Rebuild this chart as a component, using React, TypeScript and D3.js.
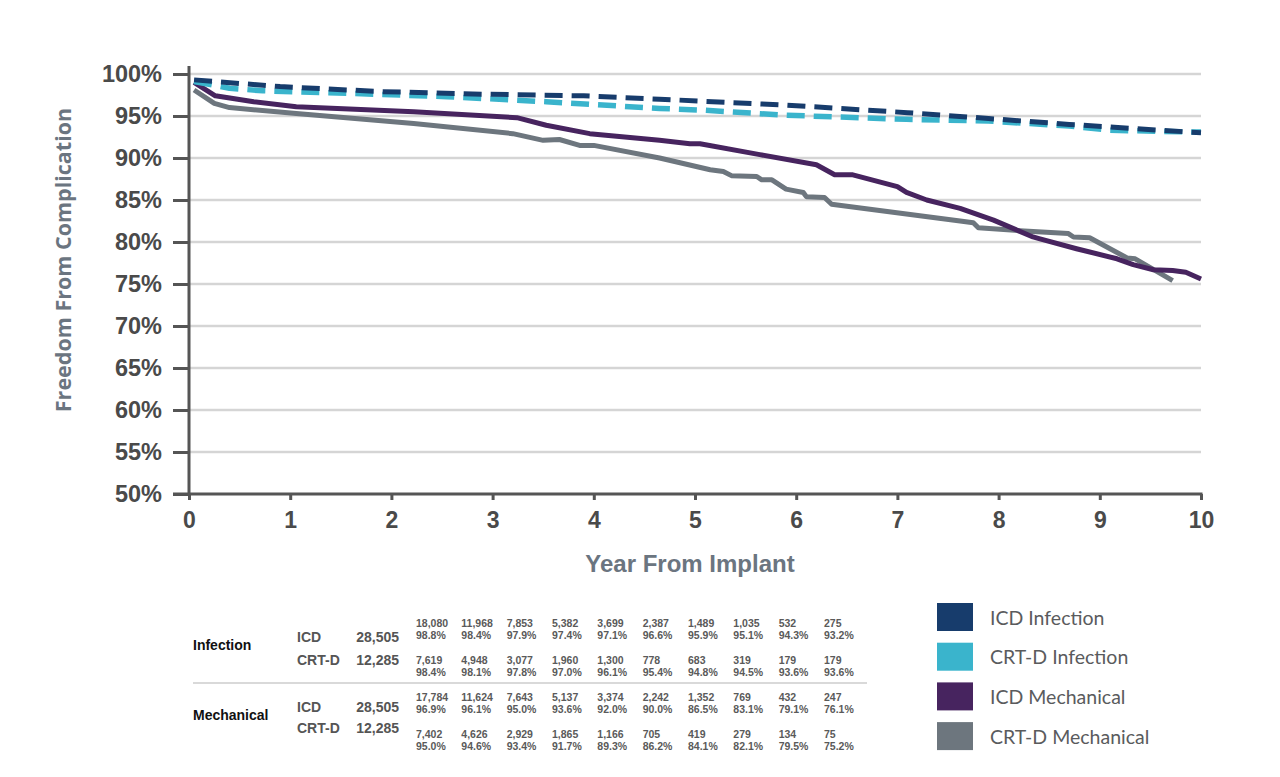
import { useEffect, useRef } from "react";
import * as d3 from "d3";

const width = 1280;
const height = 777;

// Kaplan-Meier curves (years, % free from complication)
const icdInfT = [0.05, 0.9, 1.9, 2.9, 3.9, 4.65, 5.9, 7.1, 7.9, 8.7, 10];
const icdInfS = [99.3, 98.5, 97.9, 97.6, 97.4, 97.0, 96.3, 95.4, 94.7, 94.0, 93.0];

const crtInfT = [0.05, 0.4, 0.73, 1.56, 2.55, 3.53, 4.65, 5.07, 5.88, 7.09, 7.9, 8.7, 9.1, 9.9, 10];
const crtInfS = [99.1, 98.3, 98.0, 97.7, 97.3, 96.7, 95.9, 95.7, 95.1, 94.6, 94.4, 93.8, 93.3, 93.1, 93.1];

const icdMechT = [0.05, 0.26, 0.64, 1.06, 2.22, 3.24, 3.53, 3.96, 4.65, 4.95, 5.05, 5.64, 6.2, 6.38, 6.56, 7.0, 7.09, 7.29, 7.62, 7.95, 8.34, 8.4, 8.77, 9.17, 9.33, 9.53, 9.72, 9.85, 10];
const icdMechS = [99.0, 97.4, 96.7, 96.1, 95.5, 94.8, 93.9, 92.9, 92.1, 91.7, 91.7, 90.4, 89.2, 88.0, 88.0, 86.6, 85.9, 85.0, 84.0, 82.6, 80.6, 80.4, 79.2, 78.0, 77.3, 76.7, 76.6, 76.4, 75.6];

const crtMechT = [0.05, 0.25, 0.4, 1.06, 2.22, 3.2, 3.5, 3.66, 3.86, 4.0, 4.65, 5.15, 5.28, 5.36, 5.61, 5.66, 5.76, 5.9, 6.07, 6.1, 6.28, 6.35, 7.62, 7.75, 7.8, 8.21, 8.69, 8.74, 8.9, 9.27, 9.35, 9.72];
const crtMechS = [98.1, 96.5, 96.0, 95.3, 94.1, 92.9, 92.1, 92.2, 91.5, 91.5, 90.0, 88.6, 88.4, 87.9, 87.8, 87.4, 87.4, 86.3, 85.9, 85.4, 85.3, 84.5, 82.5, 82.3, 81.7, 81.35, 81.0, 80.6, 80.5, 78.1, 78.0, 75.4];

const seriesNames = ["ICD Infection", "CRT-D Infection", "ICD Mechanical", "CRT-D Mechanical"];
const seriesColors = ["#173c6c", "#3ab4cc", "#47245f", "#6d767e"];

const yTicks = [50, 55, 60, 65, 70, 75, 80, 85, 90, 95, 100];
const xTicks = [0, 1, 2, 3, 4, 5, 6, 7, 8, 9, 10];

// numbers at risk table
const tableYears = [1, 2, 3, 4, 5, 6, 7, 8, 9, 10];
const groups = ["Infection", "Mechanical"];
const devices = ["ICD", "CRT-D"];
const deviceTotals = [28505, 12285];

const icdInfN = [18080, 11968, 7853, 5382, 3699, 2387, 1489, 1035, 532, 275];
const icdInfP = [98.8, 98.4, 97.9, 97.4, 97.1, 96.6, 95.9, 95.1, 94.3, 93.2];
const crtInfN = [7619, 4948, 3077, 1960, 1300, 778, 683, 319, 179, 179];
const crtInfP = [98.4, 98.1, 97.8, 97.0, 96.1, 95.4, 94.8, 94.5, 93.6, 93.6];
const icdMechN = [17784, 11624, 7643, 5137, 3374, 2242, 1352, 769, 432, 247];
const icdMechP = [96.9, 96.1, 95.0, 93.6, 92.0, 90.0, 86.5, 83.1, 79.1, 76.1];
const crtMechN = [7402, 4626, 2929, 1865, 1166, 705, 419, 279, 134, 75];
const crtMechP = [95.0, 94.6, 93.4, 91.7, 89.3, 86.2, 84.1, 82.1, 79.5, 75.2];

const MARGIN = { top: 74, right: 79, bottom: 283, left: 189 };

function App() {
  const svgRef = useRef(null);

  useEffect(() => {
    const svg = d3.select(svgRef.current);
    svg.selectAll("*").remove();

    const xScale = d3.scaleLinear().domain([0, 10]).range([MARGIN.left, width - MARGIN.right]);
    const yScale = d3.scaleLinear().domain([50, 100]).range([height - MARGIN.bottom, MARGIN.top]);

    const axisColor = "#555555";
    const titleColor = "#6b7580";
    const narrow = "'Liberation Sans Narrow', 'Arial Narrow', 'Liberation Sans', Arial, sans-serif";
    const arial = "'Liberation Sans', Arial, sans-serif";

    // gridlines
    svg.append("g")
      .selectAll("line")
      .data(yTicks.filter(d => d > 50))
      .join("line")
      .attr("x1", xScale(0))
      .attr("x2", xScale(10))
      .attr("y1", d => yScale(d))
      .attr("y2", d => yScale(d))
      .attr("stroke", "#d5d5d5")
      .attr("stroke-width", 2.5);

    // y axis
    const yAxis = svg.append("g")
      .attr("transform", `translate(${xScale(0)},0)`)
      .call(d3.axisLeft(yScale).tickValues(yTicks).tickSize(16).tickSizeOuter(0).tickPadding(11).tickFormat(d => `${d}%`));
    yAxis.select(".domain").remove();
    yAxis.selectAll(".tick line").attr("stroke", axisColor).attr("stroke-width", 3);
    yAxis.selectAll(".tick text")
      .attr("fill", "#4a4a4a")
      .style("font-family", arial)
      .style("font-weight", "bold")
      .style("font-size", "23.5px");

    svg.append("line")
      .attr("x1", xScale(0)).attr("x2", xScale(0))
      .attr("y1", yScale(100) - 8).attr("y2", yScale(50) + 1.5)
      .attr("stroke", axisColor).attr("stroke-width", 3);

    // x axis
    const xAxis = svg.append("g")
      .attr("transform", `translate(0,${yScale(50)})`)
      .call(d3.axisBottom(xScale).tickValues(xTicks).tickSize(6).tickSizeOuter(0).tickPadding(12).tickFormat(d3.format("d")));
    xAxis.select(".domain").remove();
    xAxis.selectAll(".tick line").attr("stroke", axisColor).attr("stroke-width", 3);
    xAxis.selectAll(".tick text")
      .attr("fill", "#4a4a4a")
      .style("font-family", narrow)
      .style("font-weight", "bold")
      .style("font-size", "23px");

    svg.append("line")
      .attr("x1", xScale(0) - 16).attr("x2", xScale(10) + 1.5)
      .attr("y1", yScale(50)).attr("y2", yScale(50))
      .attr("stroke", axisColor).attr("stroke-width", 3);

    // axis titles
    svg.append("text")
      .attr("x", xScale(5) - 5)
      .attr("y", 563)
      .attr("text-anchor", "middle")
      .attr("dominant-baseline", "central")
      .attr("fill", titleColor)
      .style("font-family", narrow)
      .style("font-weight", "bold")
      .style("font-size", "24px")
      .text("Year From Implant");

    svg.append("text")
      .attr("transform", `translate(62,${yScale(75) - 24}) rotate(-90)`)
      .attr("text-anchor", "middle")
      .attr("dominant-baseline", "central")
      .attr("fill", titleColor)
      .style("font-family", "'Open Sans', sans-serif")
      .style("font-weight", 700)
      .style("font-size", "21.5px")
      .text("Freedom From Complication");

    // curves
    const curves = [
      { t: icdInfT, s: icdInfS, dash: "18 9", w: 5 },
      { t: crtInfT, s: crtInfS, dash: "18 9", w: 5.5 },
      { t: icdMechT, s: icdMechS, dash: null, w: 5 },
      { t: crtMechT, s: crtMechS, dash: null, w: 5 },
    ];
    const line = d3.line<[number, number]>()
      .x(d => xScale(d[0]))
      .y(d => yScale(d[1]));

    // draw mechanical first so dashed infection lines sit above
    [3, 2, 1, 0].forEach(i => {
      const c = curves[i];
      const pts = c.t.map((t, j) => [t, c.s[j]] as [number, number]);
      svg.append("path")
        .datum(pts)
        .attr("fill", "none")
        .attr("stroke", seriesColors[i])
        .attr("stroke-width", c.w)
        .attr("stroke-linejoin", "round")
        .attr("stroke-dasharray", c.dash)
        .attr("d", line);
    });

    // legend
    const legend = svg.append("g").attr("transform", "translate(937,603)");
    const items = legend.selectAll("g")
      .data(seriesNames)
      .join("g")
      .attr("transform", (_, i) => `translate(0,${i * 39.7})`);
    items.append("rect")
      .attr("width", 36)
      .attr("height", 28)
      .attr("fill", (_, i) => seriesColors[i]);
    items.append("text")
      .attr("x", 53)
      .attr("y", 14)
      .attr("dominant-baseline", "central")
      .attr("fill", "#5a5b5d")
      .style("font-family", "Lato, sans-serif")
      .style("font-size", "19.5px")
      .text(d => d);

    // numbers at risk table
    const colX = d3.scaleLinear().domain([1, 10]).range([416, 824]);
    const table = svg.append("g");
    const groupY = [645, 715];
    const rowY = [[637, 660], [707, 728]];
    const cellY = [[623, 660], [697, 734]];
    const cellN = [[icdInfN, crtInfN], [icdMechN, crtMechN]];
    const cellP = [[icdInfP, crtInfP], [icdMechP, crtMechP]];
    const fmtN = d3.format(",");
    const fmtP = (v: number) => `${d3.format(".1f")(v)}%`;

    groups.forEach((g, gi) => {
      table.append("text")
        .attr("x", 193).attr("y", groupY[gi])
        .attr("dominant-baseline", "central")
        .attr("fill", "#111")
        .style("font-family", arial).style("font-weight", "bold").style("font-size", "14px")
        .text(g);
      devices.forEach((dv, di) => {
        table.append("text")
          .attr("x", 297).attr("y", rowY[gi][di])
          .attr("dominant-baseline", "central")
          .attr("fill", "#555")
          .style("font-family", arial).style("font-weight", "bold").style("font-size", "14px")
          .text(dv);
        table.append("text")
          .attr("x", 399).attr("y", rowY[gi][di])
          .attr("text-anchor", "end")
          .attr("dominant-baseline", "central")
          .attr("fill", "#555")
          .style("font-family", arial).style("font-weight", "bold").style("font-size", "14px")
          .text(fmtN(deviceTotals[di]));
        const cells = table.append("g")
          .selectAll("g")
          .data(tableYears)
          .join("g")
          .attr("transform", (yr) => `translate(${colX(yr)},${cellY[gi][di]})`);
        cells.append("text")
          .attr("dominant-baseline", "central")
          .attr("fill", "#5a5a5a")
          .style("font-family", arial).style("font-weight", "bold").style("font-size", "10.5px")
          .text((_, k) => fmtN(cellN[gi][di][k]));
        cells.append("text")
          .attr("y", 12)
          .attr("dominant-baseline", "central")
          .attr("fill", "#5a5a5a")
          .style("font-family", arial).style("font-weight", "bold").style("font-size", "10.5px")
          .text((_, k) => fmtP(cellP[gi][di][k]));
      });
    });

    table.append("line")
      .attr("x1", 193).attr("x2", 867)
      .attr("y1", 683).attr("y2", 683)
      .attr("stroke", "#d9d9d9")
      .attr("stroke-width", 2);
  }, []);

  return (
    <div>
      <svg
        width={width}
        height={height}
        ref={svgRef}
        style={{ position: "absolute", left: 0, top: 0, background: "#fff" }}
      />
    </div>
  );
}

export default App;
